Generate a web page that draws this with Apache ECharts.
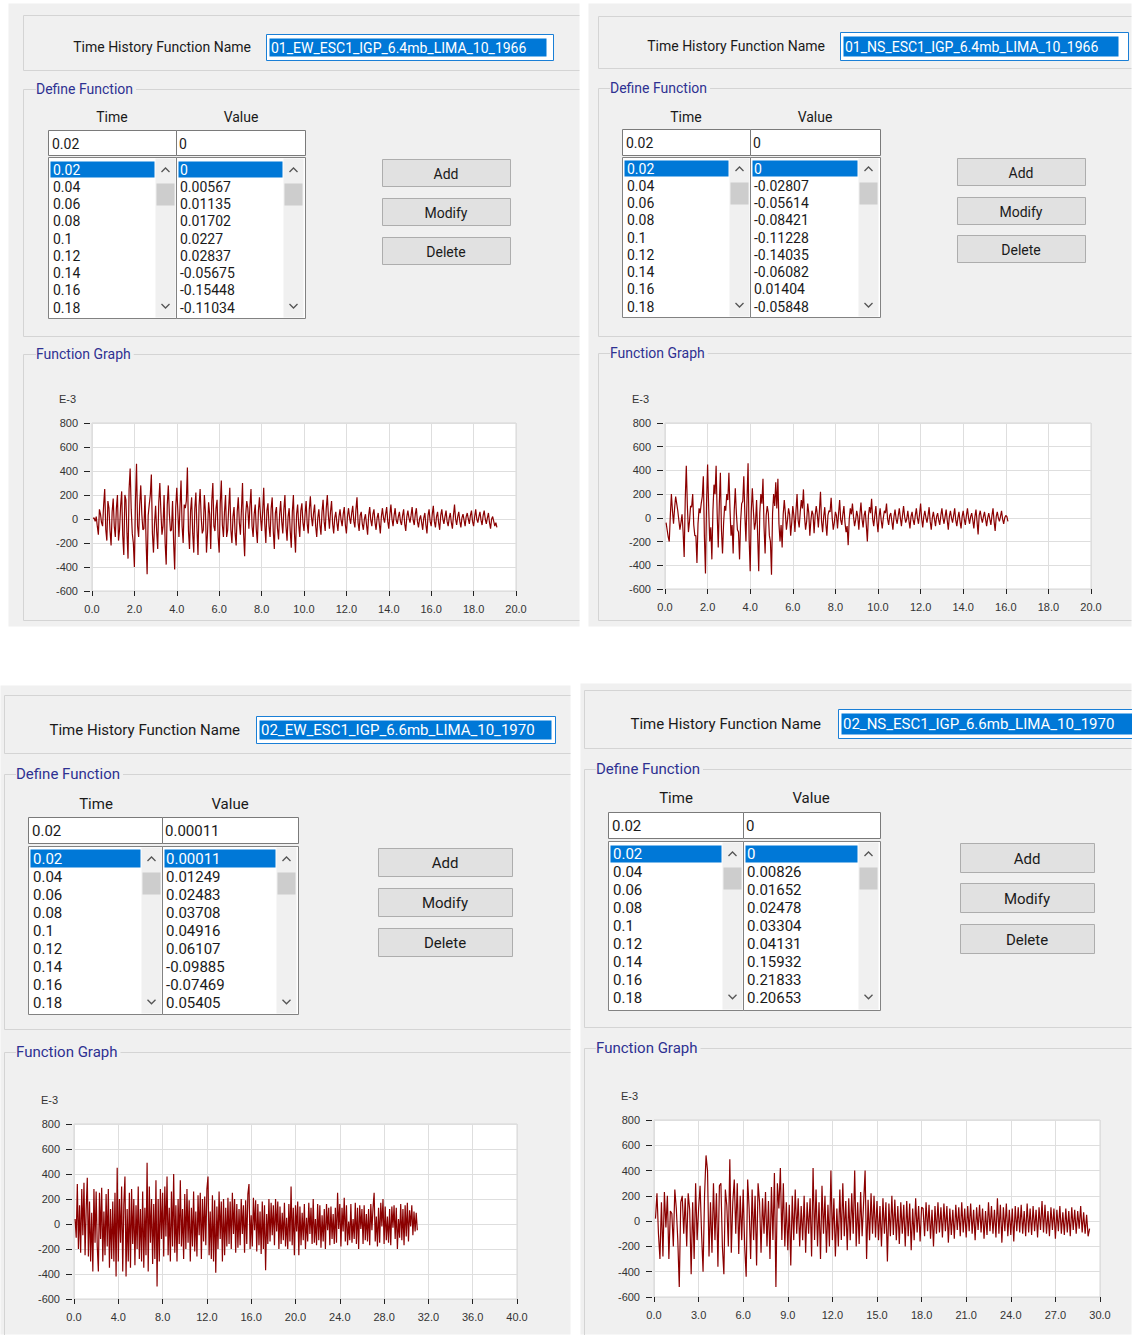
<!DOCTYPE html>
<html><head><meta charset="utf-8">
<script src="https://cdn.jsdelivr.net/npm/echarts@6/dist/echarts.min.js"></script>
<style>html,body{margin:0;padding:0;background:#fff}#c{width:1132px;height:1335px}</style>
</head><body><div id="c"></div>
<script>
// ---------------- DATA ----------------
const functionNames = ['01_EW_ESC1_IGP_6.4mb_LIMA_10_1966', '01_NS_ESC1_IGP_6.4mb_LIMA_10_1966',
                       '02_EW_ESC1_IGP_6.6mb_LIMA_10_1970', '02_NS_ESC1_IGP_6.6mb_LIMA_10_1970'];
const listTimes = ['0.02','0.04','0.06','0.08','0.1','0.12','0.14','0.16','0.18'];
const listValues1 = ['0','0.00567','0.01135','0.01702','0.0227','0.02837','-0.05675','-0.15448','-0.11034'];
const listValues2 = ['0','-0.02807','-0.05614','-0.08421','-0.11228','-0.14035','-0.06082','0.01404','-0.05848'];
const listValues3 = ['0.00011','0.01249','0.02483','0.03708','0.04916','0.06107','-0.09885','-0.07469','0.05405'];
const listValues4 = ['0','0.00826','0.01652','0.02478','0.03304','0.04131','0.15932','0.21833','0.20653'];
const inputTime = '0.02';
const inputValues = ['0','0','0.00011','0'];
const buttonLabels = ['Add','Modify','Delete'];
const yUnitLabel = 'E-3';
const yMin = -600, yMax = 800, yStep = 200;
const xMaxes = [20, 20, 40, 30];
const xSteps = [2, 2, 4, 3];
const sampleSteps = [0.05, 0.05, 0.1, 0.1];   // seconds between values

// acceleration values (x 1E-3)
const ew1966 = [
 5,10,-20,20,-60,-130,80,40,-30,-60,120,250,-90,-180,150,90,-100,-220,60,170,
 -60,-150,90,200,-180,-90,110,230,-140,-300,200,160,-120,-330,250,420,80,-120,-200,-400,
 150,460,-60,-150,120,280,40,-90,-80,200,-180,-460,30,120,200,370,-120,-280,-40,110,
 -100,-250,140,300,60,-130,-60,200,-200,-380,120,280,40,-100,-90,150,-200,-420,100,260,
 60,-150,100,320,-60,-200,120,90,150,430,-100,-250,70,180,-120,-280,90,220,-80,-300,
 110,250,20,-120,-90,200,60,-280,-110,140,40,-250,150,300,-60,-100,90,160,-150,-280,
 130,320,-50,-150,60,200,-150,-90,100,260,-90,-200,20,100,-120,-220,60,180,-30,-130,
 80,300,-120,-310,40,150,90,-80,110,250,-60,-150,40,120,-90,-200,70,180,20,-100,
 60,260,-40,-200,70,130,-60,-150,90,180,-100,-250,50,100,-80,-170,40,150,-20,-120,
 80,200,-60,-180,20,90,-100,-240,60,200,-120,-280,40,120,-50,-150,70,130,-30,-100,
 40,150,-40,-120,80,190,20,-60,50,120,-60,-150,10,80,-50,-130,60,160,-20,-100,
 90,200,30,-80,60,150,-40,-120,10,60,-30,-100,20,80,-10,-60,40,100,-50,-120,
 20,90,10,-40,50,110,-20,-70,80,180,-30,-100,30,60,-40,-90,0,40,-50,-130,
 30,100,-10,-60,40,80,-30,-90,10,50,-40,-120,20,90,10,-30,40,100,-20,-80,
 40,120,0,-60,30,90,-10,-40,20,60,-20,-50,30,80,-40,-100,20,70,10,-30,
 30,100,-10,-50,40,90,-20,-70,0,30,-30,-90,10,50,-50,-120,30,80,-20,-60,
 40,110,-20,-70,20,60,-30,-90,30,80,0,-40,20,70,-20,-60,10,50,-30,-80,
 30,120,0,-50,20,60,-20,-70,10,40,-10,-60,20,50,0,-40,30,70,-20,-60,
 20,80,0,-30,20,60,-10,-50,30,70,0,-40,10,50,-30,-80,0,20,-20,-60,
 -30,-70];
const ns1966 = [
 -40,-100,-160,-200,20,200,60,-50,80,180,120,60,-20,-100,-40,30,-120,-330,150,440,
 100,-120,-30,100,90,200,-60,-150,-150,-380,-50,80,40,120,180,350,-160,-470,120,450,
 90,-200,-80,-350,60,280,200,440,30,-250,120,380,-100,-300,-50,100,60,200,150,380,
 80,-150,-60,-300,60,250,40,-100,-120,-350,-30,120,140,350,20,-200,150,460,-180,-450,
 50,250,60,-100,-40,150,-150,-450,40,200,120,330,-80,-300,20,100,40,-150,-200,-480,
 40,200,100,300,80,330,-50,-200,-60,-250,30,150,40,-100,-20,80,30,-150,-40,100,
 20,-120,60,200,-20,-80,50,150,80,240,10,-100,-30,120,40,-150,-20,60,30,-130,
 20,100,30,-80,60,220,-30,-120,10,90,-50,-150,20,60,50,170,0,-100,-40,50,
 20,-90,40,150,-20,-60,30,100,-40,-120,-70,-230,-10,80,30,120,10,-70,-20,60,
 10,-100,30,130,-10,-80,20,60,-60,-200,20,90,40,160,-10,-70,20,100,-30,-120,
 10,80,-20,-90,0,60,40,120,-10,-60,20,40,-30,-100,10,70,-10,-50,20,80,
 0,-70,20,100,10,-40,-10,60,-20,-90,10,50,-20,-60,20,80,0,-50,30,120,
 -10,-80,10,60,0,-40,20,90,-30,-100,0,50,-10,-70,10,40,-20,-60,20,80,
 0,-50,10,70,-20,-100,10,60,0,-40,20,80,-20,-70,0,50,-30,-90,10,60,
 -10,-60,20,80,0,-50,10,40,-20,-90,10,70,-30,-140,20,60,0,-40,10,50,
 -10,-70,0,40,-10,-60,20,80,-30,-110,10,50,0,-30,10,60,-10,-50,0,20,
 10,-30];
const ew1970 = [
 40,-110,320,-200,150,-230,280,-90,330,-250,
 120,370,-260,180,-300,90,-380,280,-150,260,
 -180,-380,250,-120,290,-300,100,-250,240,-180,
 280,-350,120,-280,180,-300,250,-420,450,-300,
 200,-150,300,-380,160,380,-420,120,-300,250,
 -350,280,-160,200,-330,150,-200,300,-280,120,
 -300,260,-350,130,-250,490,-380,300,-150,200,
 -320,160,-280,350,-500,200,-300,280,-120,250,
 -260,300,-100,380,-250,130,-300,260,-180,400,
 -230,150,-300,200,-160,350,-180,120,-280,240,
 -200,280,-150,190,-300,130,-180,260,-220,100,
 -260,230,-90,250,-280,200,-140,220,-170,280,
 380,-250,100,-280,230,-300,190,-390,140,-200,
 260,-120,180,-300,200,-250,130,-180,210,-160,
 180,-200,250,-80,200,-230,160,-190,120,-170,
 200,-80,150,-230,190,-160,240,320,-200,70,
 -180,210,-50,190,-220,160,-170,100,-240,180,
 -200,150,-370,80,-160,200,-140,170,-90,150,
 -170,200,-60,180,-200,140,-160,90,-130,170,
 -180,50,-200,160,-140,300,-170,130,-250,150,
 -60,180,-250,140,-170,90,-130,160,-200,50,
 -140,170,-80,130,-160,200,-150,40,-170,160,
 -130,150,-190,70,-140,120,-200,160,-50,130,
 -170,140,-120,80,-160,130,-150,250,-40,160,
 -180,130,-60,210,-140,150,-170,20,-130,160,
 -150,40,-120,170,-160,130,-200,150,-40,120,
 -160,150,-130,80,-140,120,-170,160,-50,130,
 250,-140,60,-180,130,-150,170,-20,200,-160,
 140,-130,60,-150,120,-170,140,-30,150,-120,
 130,-200,40,-110,160,-130,120,-170,150,-100,
 170,-140,110,-20,150,-90,100,-60,90,-50];
const ns1970 = [
 20,220,-100,-300,150,-280,230,-50,200,-300,
 80,60,-200,250,100,-150,-520,150,200,-100,
 180,-200,220,90,-420,150,-300,300,-150,100,
 280,-100,-400,200,520,400,-280,150,-250,300,
 -150,220,-360,280,300,-200,-420,250,120,-200,
 490,-250,150,330,-100,300,-260,200,-150,250,
 -200,-440,330,100,-300,250,-150,200,-350,300,
 150,-250,180,-100,230,-200,160,-300,270,-150,
 380,-520,300,100,420,-150,300,-200,150,-230,
 130,-350,200,-150,250,-100,180,-200,120,-150,
 200,-250,150,-100,180,-280,420,-150,250,-200,
 150,-300,280,-100,200,-250,130,-200,400,-150,
 180,-280,100,-200,250,-150,300,-120,160,-230,
 180,-150,220,-100,400,-200,150,-180,230,-120,
 150,400,-300,170,-150,220,-100,200,-130,160,
 -150,120,-200,180,-100,150,-320,140,-120,200,
 -110,170,-150,120,-180,150,-100,130,-200,160,
 -120,140,-230,100,-150,180,-90,120,-160,110,
 100,-120,150,-80,130,-140,90,-200,120,-100,
 150,-90,110,-130,140,-80,120,-170,100,-110,
 90,-140,130,-70,110,-120,150,-90,100,-130,
 120,-80,140,-100,90,-150,110,-70,130,-90,
 100,-140,80,-110,150,-80,120,-100,90,-130,
 180,-100,130,-170,110,-80,140,-120,90,-110,
 100,-160,120,-80,110,-90,130,-100,80,-120,
 140,-90,100,-110,120,-80,90,-130,110,-70,
 160,-90,130,-100,80,-120,110,-70,100,-140,
 90,-80,120,-100,70,-110,100,-90,80,-120,
 110,-70,90,-100,80,-60,120,-90,70,-100,
 50,-120,-60];

const seriesList = [ew1966, ns1966, ew1970, ns1970];
const valueLists = [listValues1, listValues2, listValues3, listValues4];

// ---------------- LAYOUT (positions only) ----------------
const layouts = [
 {panel:[8,3,572,624], nameGrp:[23,15,70], lbl:[251,47], tb:[266,34,287,26], sel:[269,38,277,18],
  defGrp:[23,89,336,36], hdr:[112,241,117], inp:[48,130,257,25,176], list:[48,157,257,161,169,17.25,161,16],
  btn:[382,128,27,[159,198,237]], graphGrp:[23,354,620,36], grid:[92,423,424,168], fs:14},
 {panel:[588,3,544,624], nameGrp:[598,16,68], lbl:[825,46], tb:[840,32,288,28], sel:[843,36,275,20],
  defGrp:[598,88,336,610], hdr:[686,815,117], inp:[622,129,258,26,750], list:[622,157,258,160,168,17.25,160,16],
  btn:[957,128,27,[158,197,235]], graphGrp:[598,353,620,610], grid:[665,423,426,166], fs:14},
 {panel:[0,685,571,650], nameGrp:[4,695,753], lbl:[240,730], tb:[256,716,299,27], sel:[259,720,292,19],
  defGrp:[4,774,1029,16], hdr:[96,230,804], inp:[28,817,270,26,162], list:[28,846,270,168,858,18.1,849,18],
  btn:[378,134,28,[848,888,928]], graphGrp:[4,1052,null,16], grid:[74,1124,443,175], fs:15},
 {panel:[580,683,552,652], nameGrp:[584,690,748], lbl:[821,724], tb:[838,709,294,29], sel:[841,713,291,21],
  defGrp:[584,769,1027,596], hdr:[676,811,798], inp:[608,812,272,26,743], list:[608,841,272,169,853,18.1,845,17],
  btn:[960,134,29,[843,883,924]], graphGrp:[584,1048,null,596], grid:[654,1120,446,177], fs:15}
];

// ---------------- UI GRAPHICS ----------------
const UI_FONT = 'Roboto, "Noto Sans", sans-serif';
const G = [];
function rect(x,y,w,h,fill,stroke,z){
  G.push({type:'rect', silent:true, z:z, shape:{x:x+0.5,y:y+0.5,width:w,height:h},
          style:{fill:fill||'none', stroke:stroke||'none', lineWidth:1}});
}
function poly(pts,stroke,z){
  G.push({type:'polyline', silent:true, z:z, shape:{points:pts.map(p=>[p[0]+0.5,p[1]+0.5])},
          style:{stroke:stroke, fill:'none', lineWidth:1}});
}
function txt(x,y,s,o,z){
  G.push({type:'text', silent:true, z:z, x:x, y:y,
          style:Object.assign({text:s, fill:'#1a1a1a', fontSize:14, fontFamily:UI_FONT, align:'left', verticalAlign:'middle'}, o||{})});
}
const LINE = '#d4d4d4';
layouts.forEach((L,i)=>{
  const [px,py,pw,ph] = L.panel; const pr = px+pw, pb = py+ph;
  const fs = L.fs;
  rect(px,py,pw-1,ph-1,'#f0f0f0',null,-60);
  // name group
  poly([[pr-1,L.nameGrp[1]],[L.nameGrp[0],L.nameGrp[1]],[L.nameGrp[0],L.nameGrp[2]],[pr-1,L.nameGrp[2]]],LINE,-50);
  txt(L.lbl[0],L.lbl[1],'Time History Function Name',{align:'right',fontSize:fs},-40);
  rect(L.tb[0],L.tb[1],L.tb[2],L.tb[3],'#ffffff','#1a7fd6',-45);
  rect(L.sel[0],L.sel[1],L.sel[2],L.sel[3],'#0078d7',null,-44);
  txt(L.sel[0]+2,L.sel[1]+L.sel[3]/2+0.5,functionNames[i],{fill:'#ffffff',fontSize:fs},-40);
  // define function group
  const dg = L.defGrp;
  poly([[pr-1,dg[1]],[dg[0],dg[1]],[dg[0],dg[2]],[pr-1,dg[2]]],LINE,-50);
  txt(dg[3],dg[1],'Define Function',{fill:'#2e3192',fontSize:fs,backgroundColor:'#f0f0f0',padding:[0,3,0,0]},-40);
  txt(L.hdr[0],L.hdr[2],'Time',{align:'center',fontSize:fs},-40);
  txt(L.hdr[1],L.hdr[2],'Value',{align:'center',fontSize:fs},-40);
  const [ix,iy,iw,ih,idv] = L.inp;
  rect(ix,iy,idv-ix,ih,'#ffffff','#7a7a7a',-45);
  rect(idv,iy,ix+iw-idv,ih,'#ffffff','#7a7a7a',-45);
  txt(ix+4,iy+ih/2+1,inputTime,{fontSize:fs},-40);
  txt(idv+3,iy+ih/2+1,inputValues[i],{fontSize:fs},-40);
  const [lx,ly,lw,lh,row0,step,hly,hlh] = L.list;
  const lr = lx+lw;
  rect(lx,ly,idv-lx,lh,'#ffffff','#828282',-45);
  rect(idv,ly,lr-idv,lh,'#ffffff','#828282',-45);
  const sbs = [idv-21, lr-22];
  sbs.forEach(sx=>{
    rect(sx,ly+1,20,lh-2,'#f0f0f0',null,-44);
    rect(sx+1,row0+14,18,22,'#cdcdcd',null,-43);
    const cx = sx+10.5;
    G.push({type:'polyline',silent:true,z:-42,shape:{points:[[cx-4,row0+3],[cx,row0-1],[cx+4,row0+3]]},style:{stroke:'#555',lineWidth:1.3,fill:'none'}});
    const by = row0+step*8;
    G.push({type:'polyline',silent:true,z:-42,shape:{points:[[cx-4,by-3],[cx,by+1],[cx+4,by-3]]},style:{stroke:'#555',lineWidth:1.3,fill:'none'}});
  });
  rect(lx+2,hly,sbs[0]-lx-3,hlh,'#0078d7',null,-43);
  rect(idv+2,hly,sbs[1]-idv-3,hlh,'#0078d7',null,-43);
  listTimes.forEach((t,k)=>{
    txt(lx+5,row0+k*step+0.5,t,{fontSize:fs,fill:k===0?'#ffffff':'#1a1a1a'},-40);
    txt(idv+4,row0+k*step+0.5,valueLists[i][k],{fontSize:fs,fill:k===0?'#ffffff':'#1a1a1a'},-40);
  });
  const [bx,bw,bh,bys] = L.btn;
  bys.forEach((by,k)=>{
    rect(bx,by,bw,bh,'#e1e1e1','#adadad',-45);
    txt(bx+bw/2,by+bh/2+1,buttonLabels[k],{align:'center',fontSize:fs},-40);
  });
  // function graph group
  const gg = L.graphGrp;
  if (gg[2]) poly([[pr-1,gg[1]],[gg[0],gg[1]],[gg[0],gg[2]],[pr-1,gg[2]]],LINE,-50);
  else poly([[pr-1,gg[1]],[gg[0],gg[1]],[gg[0],pb]],LINE,-50);
  txt(gg[3],gg[1],'Function Graph',{fill:'#2e3192',fontSize:fs,backgroundColor:'#f0f0f0',padding:[0,3,0,0]},-40);
});

// ---------------- CHARTS ----------------
const AX_FONT = '"Liberation Sans", Arial, sans-serif';
const grids = [], xAxes = [], yAxes = [], series = [];
layouts.forEach((L,i)=>{
  const [gl,gt,gw,gh] = L.grid;
  grids.push({left:gl, top:gt, width:gw, height:gh, show:true, backgroundColor:'#ffffff', borderColor:'#d6d6d6', borderWidth:1, containLabel:false});
  xAxes.push({type:'value', gridIndex:i, min:0, max:xMaxes[i], interval:xSteps[i], position:'bottom',
    axisLine:{show:false, onZero:false}, axisTick:{show:true, length:5, lineStyle:{color:'#222'}},
    splitLine:{show:true, lineStyle:{color:'#dedede'}},
    axisLabel:{margin:12, fontSize:11, color:'#333', fontFamily:AX_FONT, formatter:v=>v.toFixed(1)}});
  yAxes.push({type:'value', gridIndex:i, min:yMin, max:yMax, interval:yStep, offset:2,
    name:yUnitLabel, nameLocation:'end', nameGap:19,
    nameTextStyle:{fontSize:11, color:'#333', fontFamily:AX_FONT, align:'right', padding:[0,14,0,0]},
    axisLine:{show:false, onZero:false}, axisTick:{show:true, length:6, lineStyle:{color:'#222'}},
    splitLine:{show:true, lineStyle:{color:'#dedede'}},
    axisLabel:{margin:12, fontSize:11, color:'#333', fontFamily:AX_FONT}});
  series.push({type:'line', xAxisIndex:i, yAxisIndex:i, showSymbol:false, symbol:'none',
    lineStyle:{color:'#8b0000', width:1.2}, itemStyle:{color:'#8b0000'},
    data: seriesList[i].map((v,k)=>[+((k+1)*sampleSteps[i]).toFixed(2), v])});
});

const chart = echarts.init(document.getElementById('c'), null, {renderer:'svg'});
chart.setOption({
  animation:false,
  backgroundColor:'#ffffff',
  graphic:{elements:G},
  grid:grids, xAxis:xAxes, yAxis:yAxes, series:series
});
</script></body></html>
